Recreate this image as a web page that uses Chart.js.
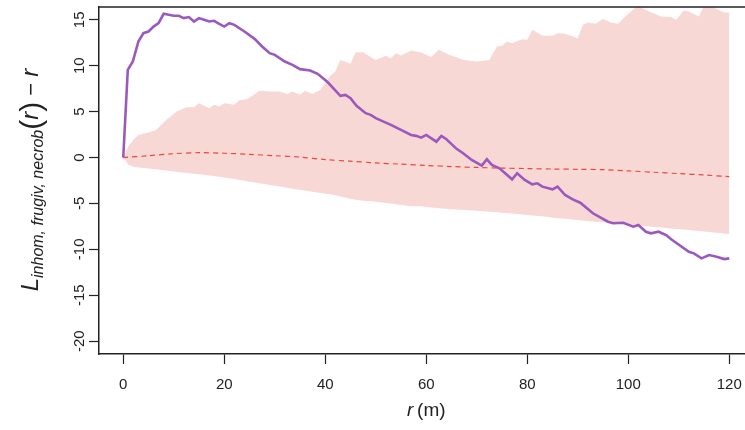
<!DOCTYPE html>
<html>
<head>
<meta charset="utf-8">
<script src="https://cdn.jsdelivr.net/npm/chart.js@4.4.1/dist/chart.umd.min.js"></script>
<style>
    html, body { margin: 0; padding: 0; background: #fff; overflow: hidden; }
    #wrap { width: 760px; height: 430px; }
</style>
</head>
<body>
<div id="wrap"><canvas id="lfun-chart" width="760" height="430"></canvas></div>
<script>
// axis ticks
const xTicks = [0, 20, 40, 60, 80, 100, 120];
const yTicks = [-20, -15, -10, -5, 0, 5, 10, 15];

// observed L(r) - r
const obsR = [0, 0.9, 1.9, 3, 4, 5, 6, 7, 8, 9, 10, 11, 12, 13, 14, 15, 16, 17, 18, 19, 20, 21, 22,
    24, 26, 27.5, 29, 30, 32, 33.5, 35, 37, 38.5, 40.5, 43, 44, 45, 46.2, 48, 49, 50, 52, 53, 55,
    57, 58, 59, 60, 62, 63, 64, 66, 67.3, 69, 71, 72, 73, 74.5, 77, 78, 79.5, 81, 82, 83, 85, 86,
    87.5, 89, 90.5, 93, 96, 97, 99, 101, 102, 103.5, 104.5, 106, 107.5, 108.5, 112, 113, 114.5,
    116, 117.5, 119, 120];
const obsL = [0, 9.55, 10.46, 12.64, 13.55, 13.73, 14.27, 14.64, 15.66, 15.55, 15.44, 15.44, 15.19,
    15.3, 14.82, 15.19, 15.0, 14.82, 14.9, 14.57, 14.27, 14.64, 14.46,
    13.73, 12.93, 12.1, 11.37, 11.19, 10.46, 10.1, 9.63, 9.48, 9.12, 8.2, 6.72, 6.83, 6.47, 5.63,
    4.83, 4.65, 4.29, 3.81, 3.56, 3.01,
    2.46, 2.36, 2.17, 2.46, 1.73, 2.36, 2.0, 0.95, 0.47, -0.26, -0.88, -0.19, -0.81, -1.17, -2.37,
    -1.71, -2.44, -2.92, -2.81, -3.17, -3.46, -3.17,
    -4.08, -4.55, -4.92, -6.07, -6.99, -7.16, -7.1, -7.53, -7.35, -8.08, -8.25, -8.08, -8.44, -8.91,
    -10.26, -10.44, -10.98, -10.62, -10.8, -11.06, -10.98];

// theoretical curve (mean of simulations)
const theoR = [0, 5, 10, 15, 20, 25, 30, 35, 40, 45, 50, 55, 60, 65, 70, 75, 80, 85, 90, 95, 100,
    105, 110, 115, 120];
const theoL = [0, 0.2, 0.42, 0.53, 0.47, 0.35, 0.2, 0.05, -0.22, -0.4, -0.58, -0.72, -0.86, -0.98,
    -1.08, -1.15, -1.2, -1.25, -1.28, -1.32, -1.45, -1.6, -1.75, -1.9, -2.08];

// simulation envelope
const envR = [0, 1, 2, 3, 5, 6.5, 8.5, 10.5, 12.5, 14, 15, 16, 17, 18, 19, 20, 22, 23, 24.5, 27,
    29, 31, 32.5, 33.5, 35, 36, 37.5, 39, 41, 42, 43, 45, 46, 47.5, 50, 52, 53, 54, 55, 57, 59,
    61, 62.5, 64.5, 67.5, 70, 72.5, 74, 75, 76, 77, 79, 80, 81, 83, 85, 86, 87.5, 90, 91, 92,
    93.5, 95, 96.5, 98, 100, 102, 103, 105, 106.5, 108.5, 109.5, 111, 112, 114, 115, 116, 117.5,
    119, 120];
const envHi = [0, 1.2, 1.9, 2.46, 2.72, 3.0, 4.1, 5.0, 5.48, 5.48, 5.92, 5.63, 5.38, 5.74, 5.55,
    5.92, 5.74, 6.28, 6.36, 7.29,
    7.19, 7.19, 6.93, 7.19, 6.83, 7.29, 6.93, 7.37, 8.9, 9.37, 10.64, 10.21, 11.44, 11.48, 10.64,
    11.08, 10.83, 11.37, 11.11, 11.66, 11.44,
    10.94, 11.73, 11.19, 10.64, 10.46, 10.64, 12.1, 12.17, 12.64, 12.46, 12.9, 12.82, 13.91, 13.3,
    13.26, 13.55, 13.48, 13.0, 14.46, 14.71,
    14.57, 15.08, 14.71, 14.57, 15.66, 16.6, 16.17, 15.73, 15.37, 15.3, 15.0, 16.02, 15.91, 15.37,
    16.6, 16.6, 16.17,
    15.8, 15.8];
const envLo = [0, -0.75, -1.0, -1.08, -1.2, -1.28, -1.4, -1.55, -1.67, -1.76, -1.82, -1.88, -1.95,
    -2.02, -2.1, -2.16, -2.35, -2.45, -2.57, -2.8,
    -2.98, -3.15, -3.3, -3.4, -3.5, -3.6, -3.72, -3.85, -4.0, -4.12, -4.25, -4.48, -4.6, -4.7,
    -4.82, -4.94, -5.0, -5.1, -5.18, -5.3, -5.3,
    -5.45, -5.53, -5.6, -5.7, -5.79, -5.9, -5.97, -6.02, -6.06, -6.1, -6.2, -6.25, -6.3, -6.4,
    -6.53, -6.6, -6.68, -6.8, -6.85, -6.9,
    -6.98, -7.05, -7.12, -7.2, -7.3, -7.4, -7.46, -7.56, -7.63, -7.72, -7.77, -7.83, -7.88, -8.0,
    -8.05, -8.1, -8.18,
    -8.27, -8.33];

const FONT = "'Liberation Sans', Arial, Helvetica, sans-serif";
const INK = '#222222';

const toXY = (xs, ys) => xs.map((x, i) => ({x: x, y: ys[i]}));

// top edge of the plot box (left and bottom come from the axis borders)
const frameTop = {
    id: 'frameTop',
    afterDraw(chart) {
        const {ctx, chartArea} = chart;
        ctx.save();
        ctx.strokeStyle = INK;
        ctx.lineWidth = 1.5;
        ctx.beginPath();
        ctx.moveTo(chartArea.left, chartArea.top);
        ctx.lineTo(chartArea.right, chartArea.top);
        ctx.stroke();
        ctx.restore();
    }
};

// axis titles with mixed italic / subscript pieces
function drawPieces(ctx, pieces) {
    let total = 0;
    pieces.forEach(p => {
        ctx.font = p.font;
        p.w = ctx.measureText(p.t).width;
        total += p.w;
    });
    let x = -total / 2;
    pieces.forEach(p => {
        ctx.font = p.font;
        ctx.fillText(p.t, x, p.dy || 0);
        x += p.w;
    });
}

const axisTitles = {
    id: 'axisTitles',
    afterDraw(chart) {
        const {ctx} = chart;
        const xs = chart.scales.x;
        ctx.save();
        ctx.fillStyle = INK;
        ctx.textBaseline = 'alphabetic';
        ctx.textAlign = 'left';

        ctx.save();
        ctx.translate(xs.getPixelForValue(60), 416);
        drawPieces(ctx, [
            {t: 'r', font: `italic 19px ${FONT}`},
            {t: '\u2009(m)', font: `19px ${FONT}`}
        ]);
        ctx.restore();

        ctx.save();
        ctx.translate(38, 180);
        ctx.rotate(-Math.PI / 2);
        drawPieces(ctx, [
            {t: 'L', font: `italic 24px ${FONT}`},
            {t: 'inhom, frugiv, necrob', font: `italic 16px ${FONT}`, dy: 5},
            {t: '(', font: `30px ${FONT}`, dy: 3},
            {t: 'r', font: `italic 24px ${FONT}`},
            {t: ')', font: `30px ${FONT}`, dy: 3},
            {t: ' \u2212 ', font: `22px ${FONT}`},
            {t: 'r', font: `italic 24px ${FONT}`}
        ]);
        ctx.restore();

        ctx.restore();
    }
};

const ctx = document.getElementById('lfun-chart').getContext('2d');

new Chart(ctx, {
    type: 'line',
    data: {
        datasets: [
            {
                label: 'obs',
                data: toXY(obsR, obsL),
                borderColor: '#9b59bd',
                borderWidth: 2.6,
                pointRadius: 0,
                tension: 0,
                fill: false
            },
            {
                label: 'theo',
                data: toXY(theoR, theoL),
                borderColor: '#e9473d',
                borderWidth: 1.2,
                borderDash: [5, 4],
                pointRadius: 0,
                tension: 0.3,
                fill: false
            },
            {
                label: 'hi',
                data: toXY(envR, envHi),
                borderWidth: 0,
                borderColor: 'rgba(0,0,0,0)',
                backgroundColor: '#f7d8d5',
                pointRadius: 0,
                tension: 0,
                fill: '+1'
            },
            {
                label: 'lo',
                data: toXY(envR, envLo),
                borderWidth: 0,
                borderColor: 'rgba(0,0,0,0)',
                pointRadius: 0,
                tension: 0,
                fill: false
            }
        ]
    },
    options: {
        responsive: false,
        animation: false,
        events: [],
        layout: {padding: {top: 7, right: 6.5, left: 0, bottom: 0}},
        plugins: {
            legend: {display: false},
            tooltip: {enabled: false}
        },
        scales: {
            x: {
                type: 'linear',
                min: -4.8,
                max: 124.8,
                afterFit: s => { s.height = 76; },
                afterBuildTicks: s => { s.ticks = xTicks.map(v => ({value: v})); },
                border: {display: true, color: INK, width: 1.5},
                grid: {drawOnChartArea: false, drawTicks: true, tickLength: 10, tickColor: INK, tickWidth: 1.2},
                ticks: {
                    color: INK,
                    font: {family: FONT, size: 15},
                    padding: 12,
                    maxRotation: 0,
                    minRotation: 0
                }
            },
            y: {
                type: 'linear',
                min: -21.4,
                max: 16.4,
                afterFit: s => { s.width = 99; },
                afterBuildTicks: s => { s.ticks = yTicks.map(v => ({value: v})); },
                border: {display: true, color: INK, width: 1.5},
                grid: {drawOnChartArea: false, drawTicks: true, tickLength: 10, tickColor: INK, tickWidth: 1.2},
                ticks: {
                    color: INK,
                    font: {family: FONT, size: 15},
                    padding: -2,
                    minRotation: 90,
                    maxRotation: 90,
                    crossAlign: 'center'
                }
            }
        }
    },
    plugins: [frameTop, axisTitles]
});
</script>
</body>
</html>
